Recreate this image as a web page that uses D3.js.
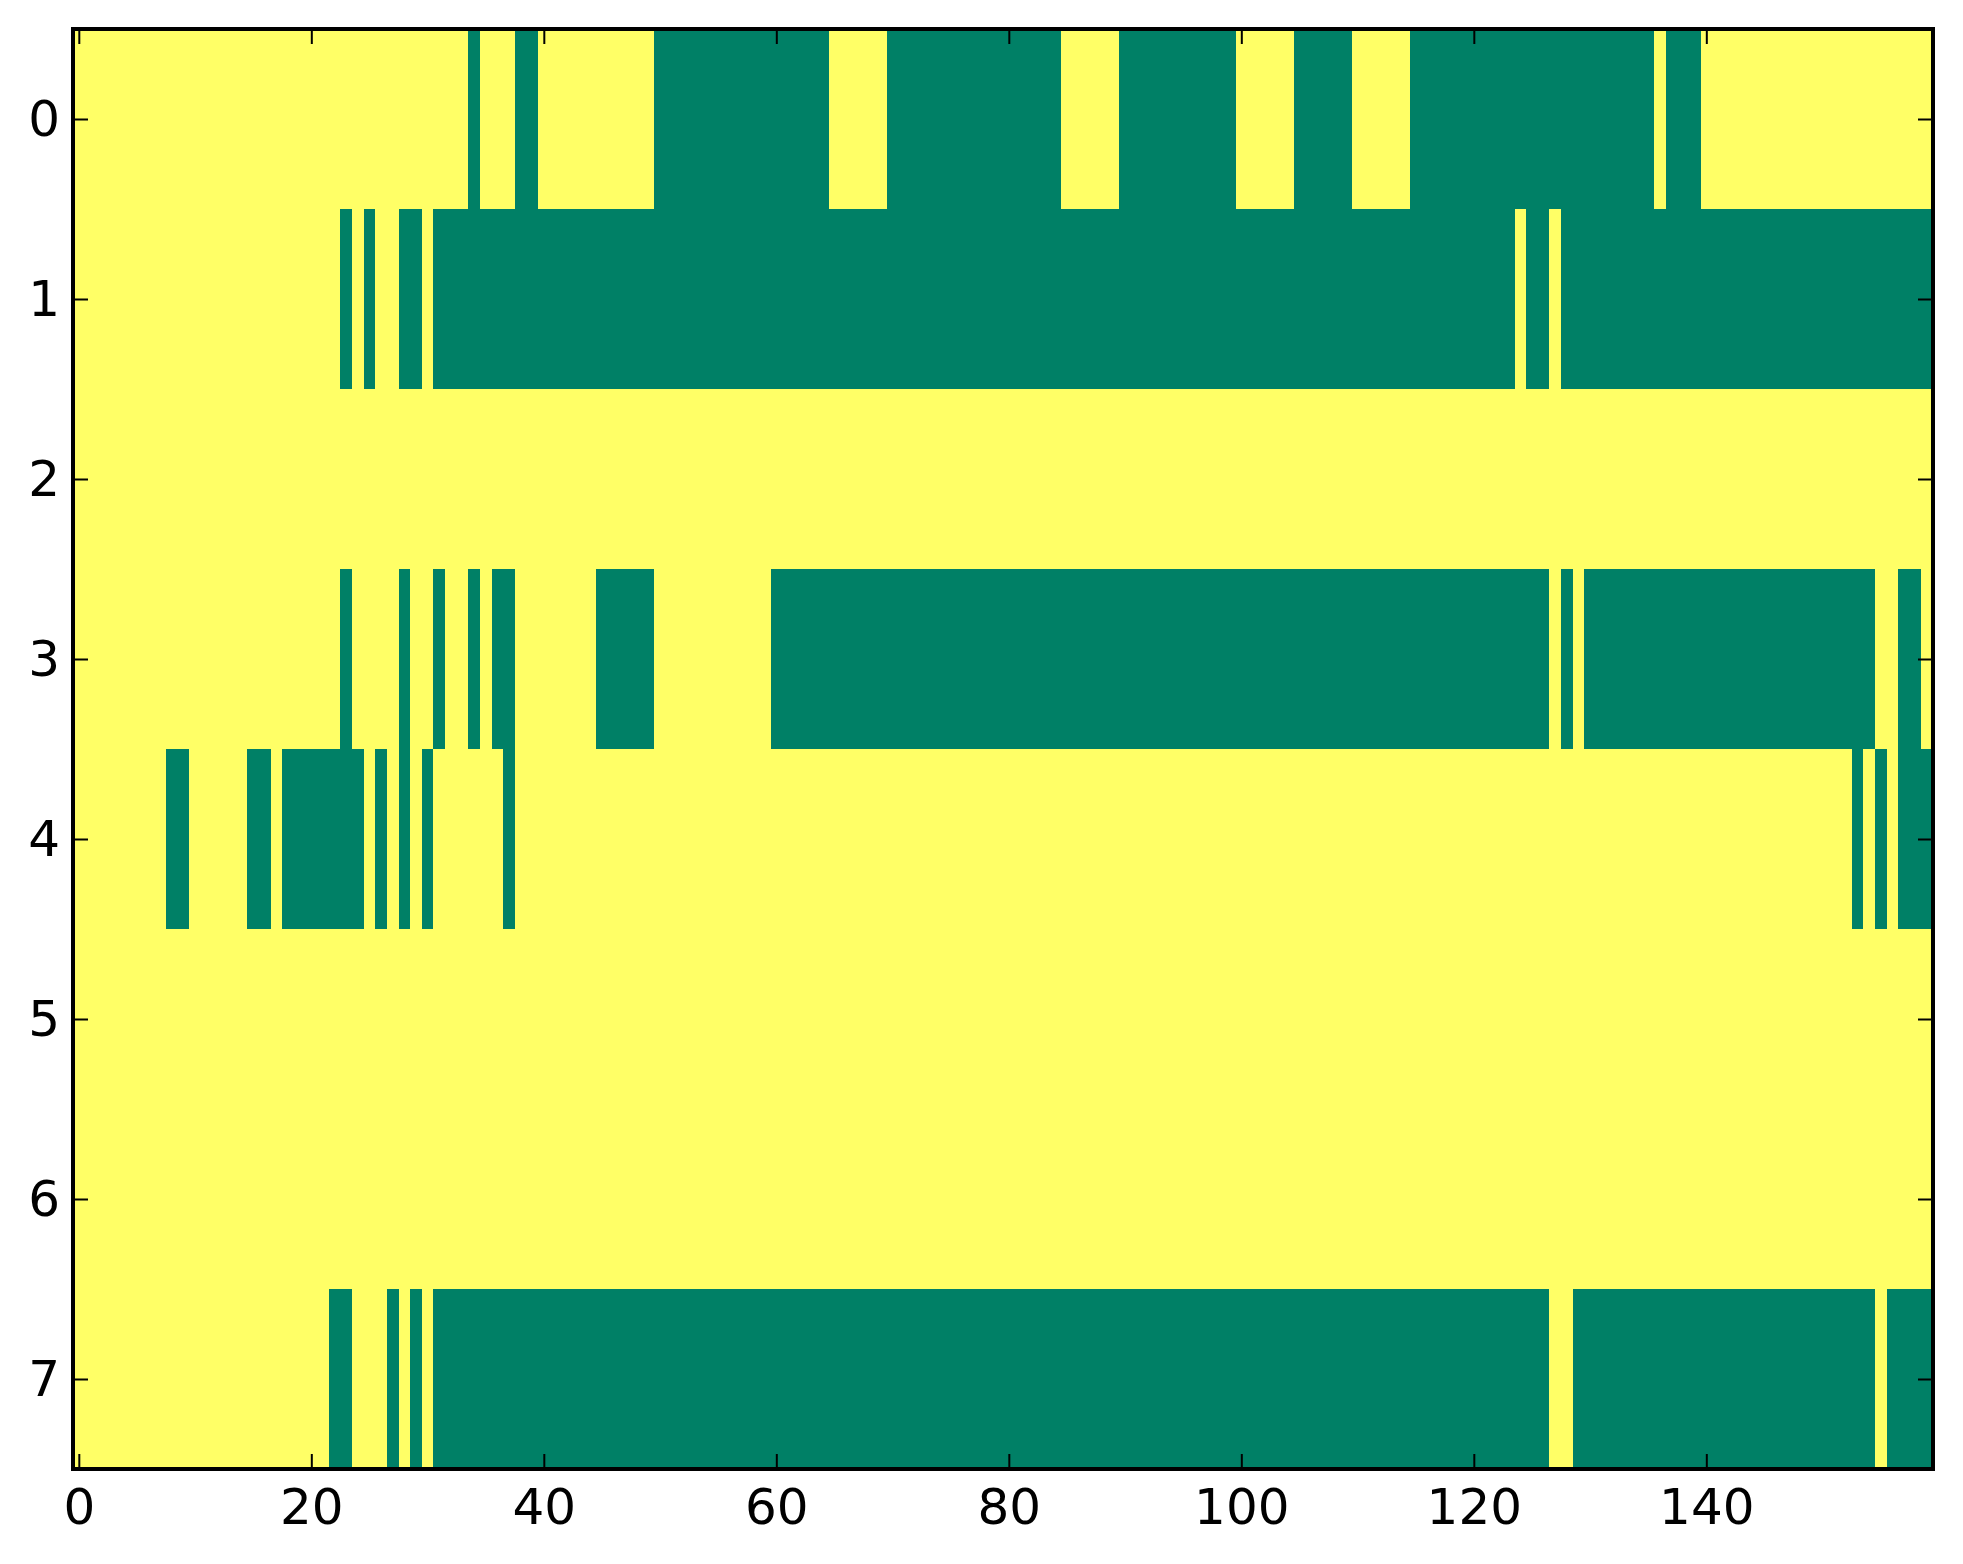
<!DOCTYPE html>
<html>
<head>
<meta charset="utf-8">
<script src="https://cdn.jsdelivr.net/npm/d3@7"></script>
<style>
  html, body { margin: 0; padding: 0; background: #fff; }
  svg { display: block; }
  .tick text { font-family: "DejaVu Sans", sans-serif; font-size: 50px; fill: #000; }
</style>
</head>
<body>
<div id="chart"></div>
<script>
"use strict";

// grid size
var nCols = 160;
var rowIds = [0, 1, 2, 3, 4, 5, 6, 7];

// green (value 0) runs per row, [first, last] column inclusive; the rest is 1 (yellow)
var row0 = [[34, 34], [38, 39], [50, 64], [70, 84], [90, 99], [105, 109], [115, 135], [137, 139]];
var row1 = [[23, 23], [25, 25], [28, 29], [31, 123], [125, 126], [128, 159]];
var row2 = [];
var row3 = [[23, 23], [28, 28], [31, 31], [34, 34], [36, 37], [45, 49], [60, 126], [128, 128], [130, 154], [157, 158]];
var row4 = [[8, 9], [15, 16], [18, 24], [26, 26], [28, 28], [30, 30], [37, 37], [153, 153], [155, 155], [157, 159]];
var row5 = [];
var row6 = [];
var row7 = [[22, 23], [27, 27], [29, 29], [31, 126], [129, 154], [156, 159]];
var greenRuns = [row0, row1, row2, row3, row4, row5, row6, row7];

// tick labels
var xTicks = [0, 20, 40, 60, 80, 100, 120, 140];
var yTicks = [0, 1, 2, 3, 4, 5, 6, 7];

(function () {
    // build the cell table from the runs
    var cells = [];
    rowIds.forEach(function (r) {
        for (var c = 0; c < nCols; c++) {
            var v = 1;
            greenRuns[r].forEach(function (run) {
                if (c >= run[0] && c <= run[1]) v = 0;
            });
            cells.push({ row: r, col: c, value: v });
        }
    });

    var width = 1963, height = 1564;
    var mLeft = 73, mRight = 1933, mTop = 29, mBottom = 1469;

    var svg = d3.select("#chart").append("svg")
        .attr("width", width)
        .attr("height", height);

    var x = d3.scaleLinear().domain([-0.5, nCols - 0.5]).range([mLeft, mRight]);
    var y = d3.scaleLinear().domain([-0.5, rowIds.length - 0.5]).range([mTop, mBottom]);

    // summer colormap ends
    var color = d3.scaleOrdinal().domain([0, 1]).range(["#008066", "#ffff66"]);

    svg.append("g")
        .attr("shape-rendering", "crispEdges")
        .selectAll("rect")
        .data(cells)
        .enter()
        .append("rect")
        .attr("x", function (d) { return x(d.col - 0.5); })
        .attr("y", function (d) { return y(d.row - 0.5); })
        .attr("width", function (d) { return x(d.col + 0.5) - x(d.col - 0.5); })
        .attr("height", function (d) { return y(d.row + 0.5) - y(d.row - 0.5); })
        .attr("fill", function (d) { return color(d.value); });

    var tickLen = 15;

    var styleAxis = function (g) {
        g.select(".domain").remove();
        g.selectAll(".tick line").attr("stroke", "#000").attr("stroke-width", 2);
    };

    svg.append("g")
        .attr("transform", "translate(0," + mBottom + ")")
        .call(d3.axisBottom(x).tickValues(xTicks).tickSizeInner(-tickLen).tickSizeOuter(0).tickPadding(19))
        .call(styleAxis);

    svg.append("g")
        .attr("transform", "translate(0," + mTop + ")")
        .call(d3.axisTop(x).tickValues(xTicks).tickSizeInner(-tickLen).tickSizeOuter(0).tickFormat(""))
        .call(styleAxis);

    svg.append("g")
        .attr("transform", "translate(" + mLeft + ",0)")
        .call(d3.axisLeft(y).tickValues(yTicks).tickSizeInner(-tickLen).tickSizeOuter(0).tickPadding(13))
        .call(styleAxis);

    svg.append("g")
        .attr("transform", "translate(" + mRight + ",0)")
        .call(d3.axisRight(y).tickValues(yTicks).tickSizeInner(-tickLen).tickSizeOuter(0).tickFormat(""))
        .call(styleAxis);

    // frame
    svg.append("rect")
        .attr("x", mLeft)
        .attr("y", mTop)
        .attr("width", mRight - mLeft)
        .attr("height", mBottom - mTop)
        .attr("fill", "none")
        .attr("stroke", "#000")
        .attr("stroke-width", 4);
})();
</script>
</body>
</html>
